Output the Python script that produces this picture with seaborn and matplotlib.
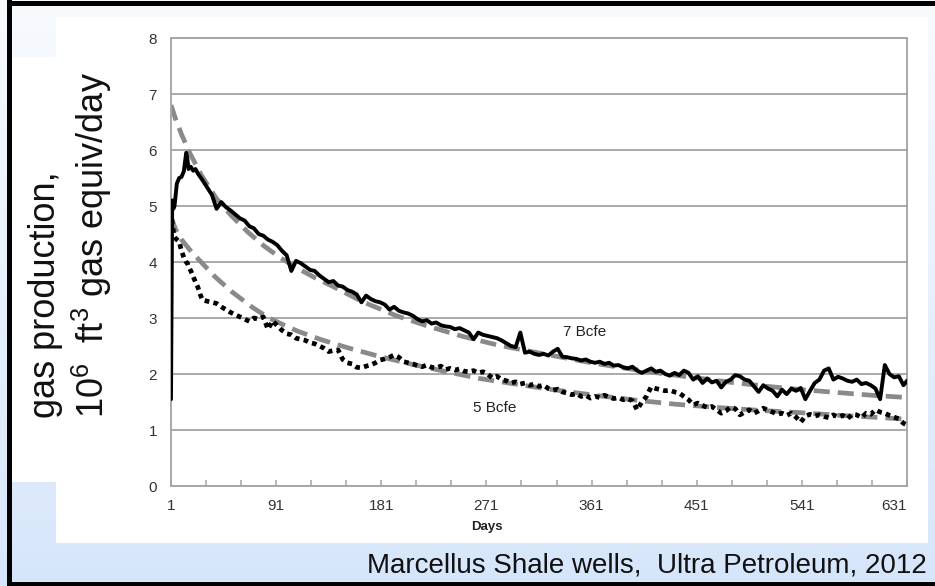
import matplotlib
matplotlib.use("Agg")
import matplotlib.pyplot as plt
import seaborn as sns
import numpy as np
from matplotlib.patches import Rectangle
from matplotlib.ticker import FixedLocator

# ---- daily gas production, two Marcellus wells (10^6 ft^3 gas equiv/day) ----
early_days = [1, 2, 3, 4, 5, 6, 8, 10, 12, 14, 15, 16, 18, 20, 22, 24, 26]
days = early_days + list(range(28, 629, 4)) + [631]

well_7bcfe = [
    1.55, 5.10, 4.95, 5.00, 5.20, 5.40, 5.50, 5.52, 5.62, 5.95, 5.85, 5.66, 5.70, 5.63, 5.66, 5.58, 5.52,
    5.46, 5.33, 5.20, 4.95, 5.07, 4.98, 4.92, 4.85, 4.78, 4.74,
    4.64, 4.60, 4.50, 4.47, 4.40, 4.36, 4.30, 4.20, 4.12, 3.84,
    4.02, 3.98, 3.92, 3.86, 3.84, 3.76, 3.70, 3.64, 3.66, 3.58,
    3.56, 3.50, 3.47, 3.42, 3.28, 3.40, 3.34, 3.30, 3.28, 3.24,
    3.15, 3.20, 3.13, 3.10, 3.08, 3.04, 2.98, 2.94, 2.96, 2.90,
    2.92, 2.87, 2.85, 2.84, 2.80, 2.82, 2.78, 2.74, 2.62, 2.74,
    2.70, 2.68, 2.66, 2.64, 2.60, 2.55, 2.50, 2.48, 2.74, 2.38,
    2.40, 2.36, 2.34, 2.36, 2.33, 2.40, 2.45, 2.31, 2.30, 2.28,
    2.27, 2.24, 2.26, 2.22, 2.20, 2.22, 2.18, 2.20, 2.15, 2.16,
    2.12, 2.10, 2.13, 2.06, 2.02, 2.06, 2.10, 2.04, 2.06, 2.00,
    1.97, 2.02, 1.98, 2.06, 2.02, 1.90, 1.96, 1.84, 1.92, 1.85,
    1.88, 1.76, 1.86, 1.90, 1.98, 1.96, 1.90, 1.88, 1.78, 1.68,
    1.80, 1.74, 1.70, 1.60, 1.72, 1.64, 1.74, 1.70, 1.75, 1.55,
    1.70, 1.84, 1.90, 2.06, 2.10, 1.90, 1.95, 1.92, 1.88, 1.86,
    1.90, 1.82, 1.84, 1.80, 1.74, 1.55, 2.16, 2.00, 1.94, 1.96,
    1.80,
    1.88,
]

well_5bcfe = [
    5.08, 4.70, 4.55, 4.45, 4.42, 4.40, 4.36, 4.20, 4.08, 4.00, 3.98, 3.92, 3.84, 3.74, 3.64, 3.55, 3.42,
    3.32, 3.30, 3.28, 3.26, 3.20, 3.15, 3.10, 3.06, 3.02, 2.98,
    2.94, 3.00, 2.98, 3.02, 2.80, 2.95, 2.86, 2.78, 2.72, 2.70,
    2.64, 2.62, 2.60, 2.56, 2.54, 2.50, 2.46, 2.40, 2.42, 2.43,
    2.26, 2.20, 2.18, 2.12, 2.11, 2.14, 2.16, 2.20, 2.25, 2.27,
    2.30, 2.34, 2.30, 2.22, 2.20, 2.18, 2.15, 2.13, 2.16, 2.12,
    2.11, 2.14, 2.08, 2.10, 2.07, 2.09, 2.05, 2.04, 2.06, 2.02,
    2.04, 2.00, 1.93, 1.96, 1.90, 1.88, 1.84, 1.86, 1.82, 1.84,
    1.80, 1.82, 1.78, 1.80, 1.74, 1.71, 1.73, 1.68, 1.66, 1.63,
    1.65, 1.60, 1.62, 1.57, 1.60, 1.58, 1.62, 1.59, 1.56, 1.58,
    1.54, 1.56, 1.52, 1.36, 1.50, 1.60, 1.77, 1.74, 1.72, 1.70,
    1.71, 1.68, 1.66, 1.60, 1.54, 1.45, 1.48, 1.44, 1.40, 1.42,
    1.36, 1.30, 1.34, 1.41, 1.38, 1.27, 1.32, 1.36, 1.30, 1.34,
    1.39, 1.35, 1.32, 1.28, 1.30, 1.26, 1.30, 1.23, 1.14, 1.25,
    1.28, 1.25, 1.27, 1.24, 1.22, 1.27, 1.23, 1.26, 1.20, 1.28,
    1.27, 1.22, 1.30, 1.28, 1.36, 1.32, 1.30, 1.26, 1.23, 1.20,
    1.12,
    1.09,
]

# fitted decline curves
fit_days_7 = [1, 5, 10, 17, 27, 40, 53, 67, 81, 95, 110, 125, 139, 165, 194, 223, 251,
              280, 307, 335, 361, 391, 421, 451, 481, 511, 541, 571, 601, 631]
fit_7bcfe = [6.80, 6.55, 6.28, 5.95, 5.55, 5.13, 4.82, 4.53, 4.28, 4.07, 3.88, 3.71, 3.57,
             3.29, 3.04, 2.84, 2.67, 2.52, 2.41, 2.30, 2.20, 2.10, 2.01, 1.93, 1.85, 1.78,
             1.72, 1.67, 1.62, 1.58]

fit_days_5 = [1, 5, 10, 17, 24, 39, 53, 70, 84, 97, 110, 130, 152, 180, 208, 237, 265,
              293, 321, 364, 400, 433, 470, 505, 539, 575, 610, 631]
fit_5bcfe = [4.80, 4.58, 4.40, 4.22, 4.06, 3.73, 3.47, 3.20, 3.01, 2.88, 2.76, 2.61, 2.47,
             2.31, 2.17, 2.04, 1.92, 1.83, 1.74, 1.62, 1.53, 1.46, 1.40, 1.35, 1.31, 1.26,
             1.22, 1.19]

x_tick_days = [1, 91, 181, 271, 361, 451, 541, 631]
minor_tick_days = list(range(1, 632, 30))
y_ticks = [0, 1, 2, 3, 4, 5, 6, 7, 8]

W, H = 935, 586
sns.set_theme(style="white")
plt.rcParams["font.family"] = ["Liberation Sans", "DejaVu Sans"]
plt.rcParams["mathtext.fontset"] = "custom"
plt.rcParams["mathtext.rm"] = "Liberation Sans"

fig = plt.figure(figsize=(W / 100, H / 100), dpi=100)

# slide-style backdrop: pale blue gradient, white panels, black frame
bg = fig.add_axes([0, 0, 1, 1], zorder=-10)
top_c = np.array([248, 250, 254]) / 255.0
bot_c = np.array([214, 230, 250]) / 255.0
t = np.linspace(0, 1, 256)[:, None, None]
grad = top_c[None, None, :] * (1 - t) + bot_c[None, None, :] * t
bg.imshow(grad, extent=[0, W, H, 0], aspect="auto", interpolation="bilinear")
bg.add_patch(Rectangle((56, 17), 872, 526, facecolor="white", edgecolor="none"))
bg.add_patch(Rectangle((12, 57), 44, 425, facecolor="white", edgecolor="none"))
bg.add_patch(Rectangle((7, 0), 5, H, facecolor="black", edgecolor="none"))
bg.add_patch(Rectangle((7, 0.5), W, 5.5, facecolor="black", edgecolor="none"))
bg.add_patch(Rectangle((7, 581.5), W, 5, facecolor="black", edgecolor="none"))
bg.set_xlim(0, W)
bg.set_ylim(H, 0)
bg.axis("off")

ax = fig.add_axes([171 / W, 1 - 486 / H, (907 - 171) / W, (486 - 38) / H])
ax.set_facecolor("white")

dash_grey = "#8a8a8a"
sns.lineplot(x=fit_days_7, y=fit_7bcfe, ax=ax, color=dash_grey, linewidth=3.4,
             linestyle=(0, (3.4, 1.7)), zorder=2)
sns.lineplot(x=fit_days_5, y=fit_5bcfe, ax=ax, color=dash_grey, linewidth=3.4,
             linestyle=(0, (3.4, 1.7)), zorder=2)
sns.lineplot(x=days, y=well_5bcfe, ax=ax, color="black", linewidth=3.4,
             linestyle=(0, (1, 0.9)), zorder=3)
sns.lineplot(x=days, y=well_7bcfe, ax=ax, color="black", linewidth=2.8,
             zorder=4)

ax.text(355, 2.75, "7 Bcfe", ha="center", va="center", fontsize=11, color="#222222")
ax.text(278, 1.39, "5 Bcfe", ha="center", va="center", fontsize=11, color="#222222")

ax.set_xlim(1, 631)
ax.set_ylim(0, 8)
ax.xaxis.set_major_locator(FixedLocator(x_tick_days))
ax.xaxis.set_minor_locator(FixedLocator(minor_tick_days))
ax.set_yticks(y_ticks)
ax.set_xticklabels([str(d) for d in x_tick_days])
ax.set_yticklabels([str(v) for v in y_ticks])
# last day label sits inside the plot edge
ax.get_xticklabels()[-1].set_horizontalalignment("right")

grid_c = "#a3a3a3"
ax.grid(axis="y", color=grid_c, linewidth=1.3)
ax.grid(axis="x", visible=False)
for side in ["left", "right", "bottom", "top"]:
    ax.spines[side].set_visible(True)
    ax.spines[side].set_color(grid_c)
    ax.spines[side].set_linewidth(1.3)

ax.tick_params(axis="x", which="both", direction="in", length=4, width=1.1,
               color=grid_c, labelsize=11, labelcolor="#333333", pad=9, bottom=True)
ax.tick_params(axis="y", length=0, labelsize=11, labelcolor="#333333", pad=10)

ax.set_xlabel("Days", fontsize=9.5, fontweight="bold", color="#222222", labelpad=6,
              x=0.429)
ax.set_ylabel("")

fig.text(71 / W, 1 - 418 / H,
         "gas production,\n10$^{\\mathregular{6}}$  ft$^{\\mathregular{3}}$ gas equiv/day",
         rotation=90, ha="center", va="bottom", multialignment="left",
         fontsize=26, color="#111111")

fig.text(927 / W, 1 - 565 / H, "Marcellus Shale wells,  Ultra Petroleum, 2012",
         ha="right", va="center", fontsize=20, color="#111111")

fig.savefig("out.png", dpi=100)
